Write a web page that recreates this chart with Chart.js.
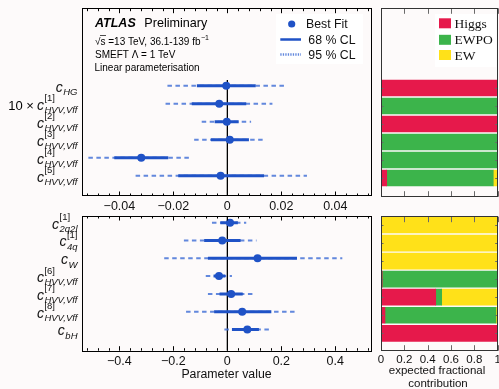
<!DOCTYPE html>
<html>
<head>
<meta charset="utf-8">
<script src="https://cdn.jsdelivr.net/npm/chart.js@4"></script>
<style>
  body { margin: 0; background: #fdfafa; }
  #wrap { position: relative; width: 499px; height: 389px; overflow: hidden; }
  canvas { position: absolute; left: 0; top: 0; }
</style>
</head>
<body>
<div id="wrap">
  <canvas id="topFit" width="499" height="389"></canvas>
  <canvas id="bottomFit" width="499" height="389"></canvas>
  <canvas id="topFrac" width="499" height="389"></canvas>
  <canvas id="bottomFrac" width="499" height="389"></canvas>
</div>
<script>
// ---- data ----
var topParams = ["c_HG", "c_HVV,Vff^[1]", "c_HVV,Vff^[2]", "c_HVV,Vff^[3]", "c_HVV,Vff^[4]", "c_HVV,Vff^[5]"];
var topBest = [-0.0004, -0.003, -0.0002, 0.0009, -0.0319, -0.0025];
var top68Lo = [-0.0113, -0.0132, -0.0047, -0.0061, -0.0419, -0.0182];
var top68Hi = [0.0105, 0.0070, 0.0042, 0.0080, -0.0219, 0.0136];
var top95Lo = [-0.0222, -0.0229, -0.0095, -0.0123, -0.0515, -0.0340];
var top95Hi = [0.0213, 0.0167, 0.0088, 0.0140, -0.0130, 0.0295];

var bottomParams = ["c_2q2l^[1]", "c_4q^[1]", "c_W", "c_HVV,Vff^[6]", "c_HVV,Vff^[7]", "c_HVV,Vff^[8]", "c_bH"];
var bottomBest = [0.010, -0.019, 0.112, -0.031, 0.014, 0.055, 0.074];
var bottom68Lo = [-0.026, -0.086, -0.072, -0.051, -0.029, -0.049, 0.017];
var bottom68Hi = [0.039, 0.049, 0.258, -0.0075, 0.057, 0.163, 0.117];
var bottom95Lo = [-0.057, -0.161, -0.234, -0.080, -0.072, -0.153, -0.011];
var bottom95Hi = [0.070, 0.108, 0.426, 0.017, 0.102, 0.258, 0.161];

// expected fractional contribution per row
var topHiggs = [1, 0, 1, 0, 0, 0.049];
var topEwpo = [0, 1, 0, 1, 1, 0.913];
var topEw = [0, 0, 0, 0, 0, 0.038];
var bottomHiggs = [0, 0, 0, 0.01, 0.469, 0.034, 1];
var bottomEwpo = [0, 0, 0, 0.99, 0.051, 0.951, 0];
var bottomEw = [1, 1, 1, 0, 0.48, 0.015, 0];

var topTicks = [-0.04, -0.02, 0, 0.02, 0.04];
var topTickLabels = ["\u22120.04", "\u22120.02", "0", "0.02", "0.04"];
var bottomTicks = [-0.4, -0.2, 0, 0.2, 0.4];
var bottomTickLabels = ["\u22120.4", "\u22120.2", "0", "0.2", "0.4"];
var fracTicks = [0, 0.2, 0.4, 0.6, 0.8, 1];
var fracTickLabels = ["0", "0.2", "0.4", "0.6", "0.8", "1"];

var W = 499, H = 389;
var BLUE = "#1f52c6";
var LIGHT = "rgba(70,115,215,0.85)";
var SANS = '"Liberation Sans", Arial, sans-serif';
var SERIF = '"Liberation Serif", "Times New Roman", serif';
var RED = "#e6194b", GREEN = "#3cb44b", YELLOW = "#ffe119";

// draws c_{sub}^{sup} right aligned
function drawParam(ctx, label, xRight, yMid) {
    var m = label.match(/^(\w)_([^\^]+)(?:\^(.+))?$/);
    var base = m[1], sub = m[2], sup = m[3] || "";
    ctx.font = "italic 14px " + SANS;
    var wb = ctx.measureText(base).width;
    ctx.font = "italic 9.5px " + SANS;
    var ws = ctx.measureText(sub).width;
    ctx.font = "9.5px " + SANS;
    var wp = ctx.measureText(sup).width;
    var x0 = xRight - Math.max(ws, wp) - wb - 0.5;
    ctx.textAlign = "left";
    ctx.textBaseline = "alphabetic";
    ctx.font = "italic 14px " + SANS;
    ctx.fillText(base, x0, yMid + 6);
    ctx.font = "italic 9.5px " + SANS;
    ctx.fillText(sub, x0 + wb + 0.5, yMid + 9.3);
    if (sup) {
        ctx.font = "9.5px " + SANS;
        ctx.fillText(sup, x0 + wb + 0.5, yMid - 2.5);
    }
}

function padding(area) {
    return { left: area.left, top: area.top, right: W - area.right, bottom: H - area.bottom };
}

// Fit panels (left)
function makeFitChart(id, cfg) {
    var datasets = [];
    datasets.push({
        data: cfg.best.map(function (v, i) { return { x: v, y: i }; }),
        pointRadius: 4,
        pointBackgroundColor: BLUE,
        pointBorderWidth: 0,
        showLine: false,
    });
    cfg.lo68.forEach(function (lo, i) {
        datasets.push({
            data: [{ x: lo, y: i }, { x: cfg.hi68[i], y: i }],
            showLine: true, borderColor: BLUE, borderWidth: 3, pointRadius: 0,
        });
    });
    cfg.lo95.forEach(function (lo, i) {
        datasets.push({
            data: [{ x: lo, y: i }, { x: cfg.hi95[i], y: i }],
            showLine: true, borderColor: LIGHT, borderWidth: 2,
            borderDash: [4.5, 3.5], pointRadius: 0,
        });
    });
    datasets.push({
        data: [{ x: 0, y: cfg.zeroFrom }, { x: 0, y: cfg.yMax }],
        showLine: true, borderColor: "#000", borderWidth: 1.3, pointRadius: 0,
    });

    var frame = {
        id: "frame",
        afterDraw: function (chart) {
            var ctx = chart.ctx, a = chart.chartArea;
            var xs = chart.scales.x, ys = chart.scales.y;
            ctx.save();
            ctx.strokeStyle = "#000";
            ctx.lineWidth = 1;
            ctx.strokeRect(Math.floor(a.left) + 0.5, Math.floor(a.top) + 0.5,
                Math.round(a.right - a.left), Math.round(a.bottom - a.top));
            // ticks (inward) on top and bottom edges
            var k0 = Math.ceil(xs.min / cfg.minor - 1e-6), k1 = Math.floor(xs.max / cfg.minor + 1e-6);
            ctx.beginPath();
            for (var k = k0; k <= k1; k++) {
                var px = Math.round(xs.getPixelForValue(k * cfg.minor)) + 0.5;
                var len = (k % 5 === 0) ? 4.5 : 2.5;
                ctx.moveTo(px, a.bottom); ctx.lineTo(px, a.bottom - len);
                ctx.moveTo(px, a.top); ctx.lineTo(px, a.top + len);
            }
            ctx.stroke();
            // tick labels
            ctx.fillStyle = "#111";
            ctx.font = "12.5px " + SANS;
            ctx.textAlign = "center";
            ctx.textBaseline = "alphabetic";
            cfg.ticks.forEach(function (t, i) {
                ctx.fillText(cfg.tickLabels[i], xs.getPixelForValue(t), a.bottom + cfg.labelDy);
            });
            // parameter names
            cfg.names.forEach(function (n, i) {
                drawParam(ctx, n, 77.5, ys.getPixelForValue(i));
            });
            if (cfg.extra) cfg.extra(ctx, chart);
            ctx.restore();
        },
    };

    new Chart(document.getElementById(id), {
        type: "scatter",
        data: { datasets: datasets },
        options: {
            responsive: false,
            animation: false,
            events: [],
            layout: { padding: padding(cfg.area) },
            plugins: { legend: { display: false }, tooltip: { enabled: false } },
            scales: {
                x: { type: "linear", display: false, min: cfg.xMin, max: cfg.xMax },
                y: { type: "linear", display: false, reverse: true, min: cfg.yMin, max: cfg.yMax },
            },
        },
        plugins: [frame],
    });
}

// Fraction panels (right): floating bars laid end to end per row
function makeFracChart(id, cfg) {
    var segs = function (parts, k) {
        return parts[0].map(function (_, i) {
            var start = 0;
            for (var j = 0; j < k; j++) start += parts[j][i];
            return { x: [start, start + parts[k][i]], y: i };
        });
    };
    var parts = [cfg.higgs, cfg.ewpo, cfg.ew];
    var frame = {
        id: "fracFrame",
        afterDraw: function (chart) {
            var ctx = chart.ctx, a = chart.chartArea;
            var xs = chart.scales.x, ys = chart.scales.y;
            ctx.save();
            ctx.strokeStyle = "#6a6a6a";
            ctx.lineWidth = 1;
            ctx.beginPath();
            fracTicks.forEach(function (t) {
                var px = Math.round(xs.getPixelForValue(t)) + 0.5;
                ctx.moveTo(px, a.bottom); ctx.lineTo(px, a.bottom - 5.5);
                ctx.moveTo(px, a.top); ctx.lineTo(px, a.top + 5.5);
            });
            cfg.higgs.forEach(function (v, i) {
                var py = Math.round(ys.getPixelForValue(i)) + 0.5;
                ctx.moveTo(a.left, py); ctx.lineTo(a.left + 2.5, py);
                ctx.moveTo(a.right, py); ctx.lineTo(a.right - 2.5, py);
            });
            ctx.stroke();
            ctx.strokeStyle = "#333";
            ctx.strokeRect(Math.floor(a.left) + 0.5, Math.floor(a.top) + 0.5,
                Math.round(a.right - a.left) - 1, Math.round(a.bottom - a.top));
            if (cfg.labels) {
                ctx.fillStyle = "#111";
                ctx.font = "11.5px " + SANS;
                ctx.textAlign = "center";
                fracTicks.forEach(function (t, i) {
                    ctx.fillText(fracTickLabels[i], xs.getPixelForValue(t), a.bottom + 12.5);
                });
                ctx.font = "11.5px " + SANS;
                ctx.fillText("expected fractional", 437, 374);
                ctx.fillText("contribution", 438, 386.5);
            }
            if (cfg.legend) {
                ctx.fillStyle = "#fff";
                ctx.fillRect(435, 14, 61, 53);
                var items = [["Higgs", RED, 18.3], ["EWPO", GREEN, 34.8], ["EW", YELLOW, 50]];
                ctx.font = "13.5px " + SERIF;
                ctx.textAlign = "left";
                items.forEach(function (it) {
                    ctx.fillStyle = it[1];
                    ctx.fillRect(439, it[2], 12, 10);
                    ctx.fillStyle = "#111";
                    ctx.fillText(it[0], 454.5, it[2] + 9.5);
                });
            }
            ctx.restore();
        },
    };

    new Chart(document.getElementById(id), {
        type: "bar",
        data: {
            datasets: [
                { label: "Higgs", data: segs(parts, 0), backgroundColor: RED },
                { label: "EWPO", data: segs(parts, 1), backgroundColor: GREEN },
                { label: "EW", data: segs(parts, 2), backgroundColor: YELLOW },
            ],
        },
        options: {
            indexAxis: "y",
            responsive: false,
            animation: false,
            events: [],
            datasets: { bar: { barThickness: 16, borderWidth: 0, grouped: false } },
            layout: { padding: padding(cfg.area) },
            plugins: { legend: { display: false }, tooltip: { enabled: false } },
            scales: {
                x: { type: "linear", display: false, offset: false, min: 0, max: 1 },
                y: {
                    type: "linear", display: false, offset: false, grid: { offset: false },
                    reverse: true, min: cfg.yMin, max: cfg.yMax,
                },
            },
        },
        plugins: [frame],
    });
}

function topExtra(ctx) {
    ctx.fillStyle = "#000";
    ctx.textAlign = "left";
    ctx.font = "italic bold 12.5px " + SANS;
    ctx.fillText("ATLAS", 95, 26.5);
    ctx.font = "12.6px " + SANS;
    ctx.fillText("Preliminary", 144.3, 26.5);

    ctx.font = "10px " + SANS;
    var x = 95, y = 44.5;
    ctx.fillText("\u221A", x, y);
    x += ctx.measureText("\u221A").width;
    ctx.fillText("s", x, y);
    var ws = ctx.measureText("s").width;
    ctx.beginPath();
    ctx.lineWidth = 0.7;
    ctx.strokeStyle = "#000";
    ctx.moveTo(x - 0.5, y - 9); ctx.lineTo(x + ws + 0.5, y - 9);
    ctx.stroke();
    x += ws;
    var rest = " =13 TeV, 36.1-139 fb";
    ctx.fillText(rest, x, y);
    x += ctx.measureText(rest).width;
    ctx.font = "7px " + SANS;
    ctx.fillText("\u22121", x + 0.5, y - 4.5);

    ctx.font = "10px " + SANS;
    ctx.fillText("SMEFT \u039B = 1 TeV", 95, 57.5);
    ctx.fillText("Linear parameterisation", 94.5, 71);

    ctx.font = "13px " + SANS;
    ctx.fillText("10 \u00D7", 8.3, 110);

    // legend
    ctx.fillStyle = "#fff";
    ctx.fillRect(276, 14, 87, 50);
    ctx.fillStyle = BLUE;
    ctx.beginPath();
    ctx.arc(291.7, 24, 3.6, 0, Math.PI * 2);
    ctx.fill();
    ctx.lineWidth = 2.5;
    ctx.strokeStyle = BLUE;
    ctx.beginPath();
    ctx.moveTo(280.3, 39.5); ctx.lineTo(301, 39.5);
    ctx.stroke();
    ctx.strokeStyle = LIGHT;
    ctx.setLineDash([1.3, 1.2]);
    ctx.beginPath();
    ctx.moveTo(280.3, 54.5); ctx.lineTo(301, 54.5);
    ctx.stroke();
    ctx.setLineDash([]);
    ctx.fillStyle = "#111";
    ctx.font = "12.3px " + SANS;
    ctx.fillText("Best Fit", 306, 28.3);
    ctx.fillText("68 % CL", 308.3, 43.7);
    ctx.fillText("95 % CL", 308.3, 58.7);
}

function bottomExtra(ctx) {
    ctx.fillStyle = "#111";
    ctx.textAlign = "center";
    ctx.font = "12.3px " + SANS;
    ctx.fillText("Parameter value", 226.5, 377.5);
}

makeFitChart("topFit", {
    names: topParams, best: topBest, lo68: top68Lo, hi68: top68Hi, lo95: top95Lo, hi95: top95Hi,
    area: { left: 82.7, top: 8.7, right: 372, bottom: 196 },
    xMin: -0.0536, xMax: 0.0536, yMin: -4.278, yMax: 6.128, zeroFrom: -0.32,
    minor: 0.004, ticks: topTicks, tickLabels: topTickLabels, labelDy: 14.3,
    extra: topExtra,
});
makeFitChart("bottomFit", {
    names: bottomParams, best: bottomBest, lo68: bottom68Lo, hi68: bottom68Hi, lo95: bottom95Lo, hi95: bottom95Hi,
    area: { left: 82.7, top: 216, right: 372, bottom: 350.7 },
    xMin: -0.536, xMax: 0.536, yMin: -0.376, yMax: 7.191, zeroFrom: -0.376,
    minor: 0.04, ticks: bottomTicks, tickLabels: bottomTickLabels, labelDy: 14.5,
    extra: bottomExtra,
});
makeFracChart("topFrac", {
    higgs: topHiggs, ewpo: topEwpo, ew: topEw,
    area: { left: 381, top: 8.3, right: 497.7, bottom: 196.7 },
    yMin: -4.428, yMax: 6.039, legend: true,
});
makeFracChart("bottomFrac", {
    higgs: bottomHiggs, ewpo: bottomEwpo, ew: bottomEw,
    area: { left: 381, top: 216.7, right: 497.7, bottom: 350.7 },
    yMin: -0.46, yMax: 6.964, labels: true,
});
</script>
</body>
</html>
